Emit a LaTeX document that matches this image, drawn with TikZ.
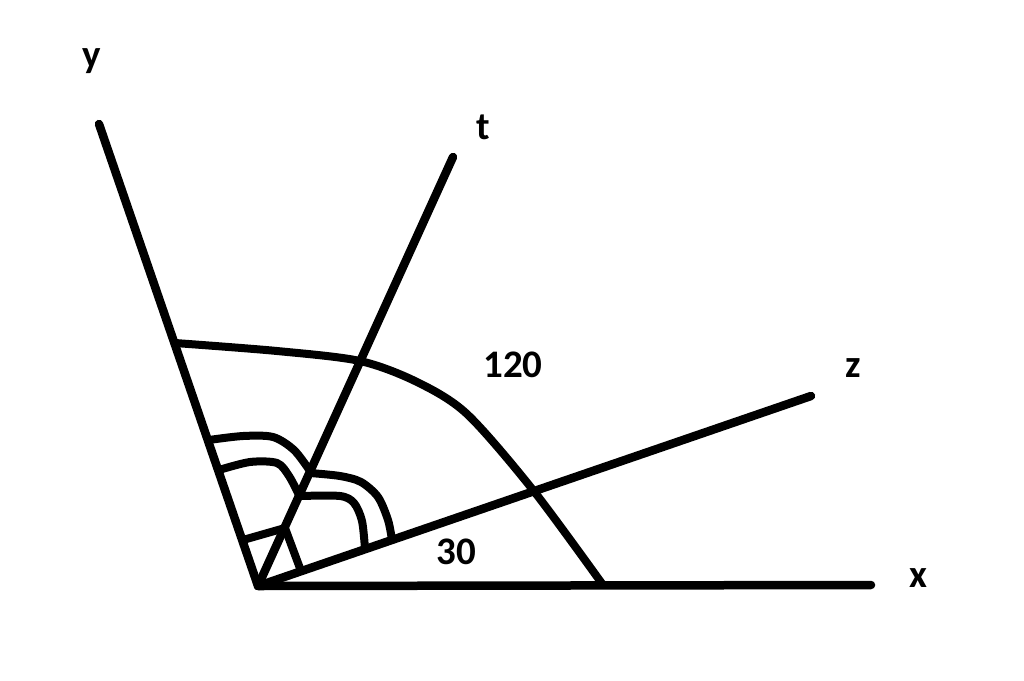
\documentclass[tikz,border=0pt]{standalone}
\usepackage{fontspec}
\setmainfont{Carlito}

\begin{document}
\begin{tikzpicture}[x=1pt,y=-1pt]
\tikzstyle{every node}=[font=\fontsize{39}{46}\selectfont\bfseries, inner sep=0pt]
\tikzstyle{axis}=[line width=8.5pt, line cap=round]
\tikzstyle{anglemark}=[line width=8pt, line cap=round, line join=round]
\useasboundingbox (0,0) rectangle (1024,680);

% axes
\coordinate (O) at (258,586);
\coordinate (X) at (871,585);
\coordinate (Y) at (99,124);
\coordinate (T) at (453,157);
\coordinate (Z) at (811,396);

\node (x) at (918,578) {x};
\node (y) at (92,61) {y};
\node (t) at (483,127) {t};
\node (z) at (853,368) {z};
\node (a120) at (513,365) {120};
\node (a30) at (456,552) {30};

\draw[axis] (O) -- (X);
\draw[axis] (O) -- (Y);
\draw[axis] (O) -- (T);
\draw[axis] (O) -- (Z);

% big arc
\draw[anglemark] plot[smooth] coordinates {(175,343) (277,351) (360,361) (417,382) (467,414) (533,490) (603,585)};

% small marks
\draw[anglemark] plot[smooth] coordinates {(209,440) (243,436) (273,437) (294,450) (310,471)};
\draw[anglemark] plot[smooth] coordinates {(219,470) (250,462) (277,463) (289,476) (299,495)};
\draw[anglemark] (243,540) -- (285,528) -- (301,571);
\draw[anglemark] plot[smooth] coordinates {(310,473) (340,476) (361,482) (378,497) (388,520) (392,540)};
\draw[anglemark] plot[smooth] coordinates {(300,496) (340,496) (354,503) (362,521) (365,549)};
\end{tikzpicture}
\end{document}
